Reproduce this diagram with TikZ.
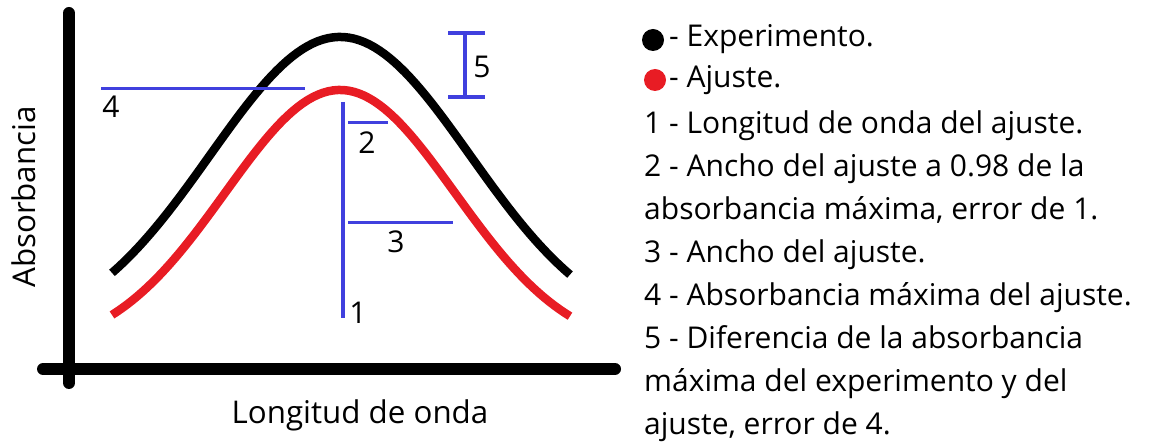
\documentclass[tikz,border=0pt]{standalone}
\usepackage{fontspec}
\setmainfont{Open Sans}
\usetikzlibrary{positioning}
\definecolor{fitred}{RGB}{232,28,36}
\definecolor{guideblue}{RGB}{64,64,222}

\begin{document}
\begin{tikzpicture}[x=1pt,y=-1pt,
  axis/.style={line width=12pt,line cap=round},
  curve/.style={line width=8.5pt},
  guide/.style={guideblue,line width=3pt},
  num/.style={font=\fontsize{30}{34}\selectfont,inner sep=0pt},
  leg/.style={font=\fontsize{30}{34}\selectfont,anchor=base west,inner sep=0pt},
  dot/.style={circle,inner sep=0pt,minimum size=22pt}]
  \useasboundingbox (0,0) rectangle (1156,443);
  % axes
  \coordinate (ytop) at (69,13);   \coordinate (ybot) at (69,383);
  \coordinate (xleft) at (43,369); \coordinate (xright) at (615,369);
  \draw[axis] (ytop) -- (ybot);
  \draw[axis] (xleft) -- (xright);
  \node[font=\fontsize{31.3}{35}\selectfont,rotate=90,inner sep=0pt] (ylab) at (24,197) {Absorbancia};
  \node[font=\fontsize{31.3}{35}\selectfont,anchor=base,inner sep=0pt] (xlab) at (360,423) {Longitud de onda};
  % experiment and fit
  \draw[curve,black] plot[domain=112:570,samples=90]
    (\x,{337.4-300.4*exp(-0.5*((\x-340)/130)^2)});
  \draw[curve,fitred] plot[domain=112:570,samples=90]
    (\x,{351.6-261.6*exp(-0.5*((\x-340)/115)^2)});
  % guide lines
  \coordinate (g1a) at (343,102); \coordinate (g1b) at (343,318);
  \coordinate (g2a) at (348,123); \coordinate (g2b) at (388,123);
  \coordinate (g3a) at (348,223); \coordinate (g3b) at (453,223);
  \coordinate (g4a) at (101,89);  \coordinate (g4b) at (305,89);
  \coordinate (g5a) at (465,33);  \coordinate (g5b) at (465,97);
  \draw[guide,line width=3.4pt] (g1a) -- (g1b);
  \draw[guide] (g2a) -- (g2b);
  \draw[guide] (g3a) -- (g3b);
  \draw[guide] (g4a) -- (g4b);
  \draw[guide,line width=3.6pt] (g5a) -- (g5b);
  \draw[guide,line width=3.6pt] ([xshift=-17pt]g5a) -- ([xshift=20pt]g5a);
  \draw[guide,line width=3.6pt] ([xshift=-17pt]g5b) -- ([xshift=20pt]g5b);
  \node[num] (n1) at (358,313) {1};
  \node[num] (n2) at (367,143) {2};
  \node[num] (n3) at (396,242) {3};
  \node[num] (n4) at (111,107) {4};
  \node[num] (n5) at (482,67) {5};
  % legend
  \node[dot,fill=black] (dexp) at (653,40) {};
  \node[dot,fill=fitred] (dfit) at (655,80) {};
  \node[leg] (lexp) at (669,47) {- Experimento.};
  \node[leg] (lfit) at (669,88) {- Ajuste.};
  \foreach \t [count=\i from 2] in {1 - Longitud de onda del ajuste.,
      2 - Ancho del ajuste a 0.98 de la,
      {absorbancia máxima, error de 1.},
      3 - Ancho del ajuste.,
      4 - Absorbancia máxima del ajuste.,
      5 - Diferencia de la absorbancia,
      máxima del experimento y del,
      {ajuste, error de 4.}}
    \node[leg] (l\i) at (644,{47+43.1*\i}) {\t};
\end{tikzpicture}
\end{document}
